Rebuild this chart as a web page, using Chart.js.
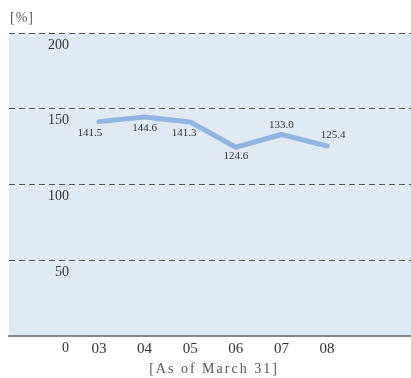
<!DOCTYPE html>
<html>
<head>
<meta charset="utf-8">
<script src="https://cdn.jsdelivr.net/npm/chart.js@4/dist/chart.umd.min.js"></script>
<style>
  html, body { margin: 0; padding: 0; background: #fff; }
  #wrap { width: 411px; height: 378px; position: relative; }
</style>
</head>
<body>
<div id="wrap"><canvas id="ratioChart"></canvas></div>
<script>
// Data
const years = ['03', '04', '05', '06', '07', '08'];
const ratios = [141.5, 144.6, 141.3, 124.6, 133.0, 125.4];
const yTicks = [0, 50, 100, 150, 200];

const serif = '"Liberation Serif", "DejaVu Serif", serif';

// label placement around each point (dx, dy in px)
const labelOffsets = [[-9, 11], [0, 11], [-6, 11], [0, 9], [0, -9], [6, -11]];

// light blue plot background
const plotBackground = {
  id: 'plotBackground',
  beforeDraw(chart) {
    const {ctx, chartArea} = chart;
    ctx.save();
    ctx.fillStyle = '#e0eaf5';
    ctx.fillRect(chartArea.left, chartArea.top, chartArea.right - chartArea.left, chartArea.bottom - chartArea.top);
    ctx.restore();
  }
};

// value labels + unit and footnote text
const extraText = {
  id: 'extraText',
  afterDatasetsDraw(chart) {
    const {ctx} = chart;
    const meta = chart.getDatasetMeta(0);
    ctx.save();
    ctx.fillStyle = '#333';
    ctx.font = '11px ' + serif;
    ctx.textAlign = 'center';
    ctx.textBaseline = 'middle';
    meta.data.forEach(function (pt, i) {
      const off = labelOffsets[i];
      ctx.fillText(ratios[i].toFixed(1), pt.x + off[0], pt.y + off[1]);
    });

    ctx.fillStyle = '#555';
    ctx.font = '14px ' + serif;
    ctx.letterSpacing = '1px';
    ctx.textAlign = 'left';
    ctx.fillText('[%]', 10, 18);

    ctx.letterSpacing = '2px';
    ctx.textAlign = 'center';
    ctx.fillText('[As of March 31]', 214, 369);
    ctx.restore();
  }
};

const ctx = document.getElementById('ratioChart').getContext('2d');
new Chart(ctx, {
  type: 'line',
  data: {
    datasets: [{
      data: ratios.map((v, i) => ({x: i, y: v})),
      borderColor: '#8fb6e3',
      borderWidth: 5,
      borderCapStyle: 'round',
      borderJoinStyle: 'round',
      pointRadius: 0,
      tension: 0,
      fill: false
    }]
  },
  options: {
    responsive: true,
    maintainAspectRatio: false,
    animation: false,
    layout: {padding: {left: 9, right: 0, top: 33, bottom: 18}},
    plugins: {
      legend: {display: false},
      tooltip: {enabled: false}
    },
    scales: {
      x: {
        type: 'linear',
        min: -1.97,
        max: 6.84,
        afterBuildTicks: function (axis) {
          axis.ticks = years.map((y, i) => ({value: i}));
        },
        afterFit: function (axis) {
          axis.height = 24;
          axis.paddingLeft = 0;
          axis.paddingRight = 0;
        },
        ticks: {
          color: '#333',
          font: {family: serif, size: 15},
          padding: 4,
          maxRotation: 0,
          autoSkip: false,
          callback: function (value) { return years[value]; }
        },
        grid: {display: false, drawTicks: false},
        border: {display: true, color: '#888', width: 2}
      },
      y: {
        min: 0,
        max: 200,
        afterBuildTicks: function (axis) {
          axis.ticks = yTicks.map(v => ({value: v}));
        },
        afterFit: function (axis) {
          axis.width = 0;
          axis.paddingTop = 0;
          axis.paddingBottom = 0;
        },
        ticks: {
          mirror: true,
          crossAlign: 'far',
          padding: 39,
          labelOffset: 12,
          color: '#333',
          font: {family: serif, size: 14}
        },
        grid: {
          drawTicks: false,
          color: c => (c.tick && c.tick.value === 0) ? 'rgba(0,0,0,0)' : '#555',
          lineWidth: 1
        },
        border: {display: false, dash: [6, 4]}
      }
    }
  },
  plugins: [plotBackground, extraText]
});
</script>
</body>
</html>
